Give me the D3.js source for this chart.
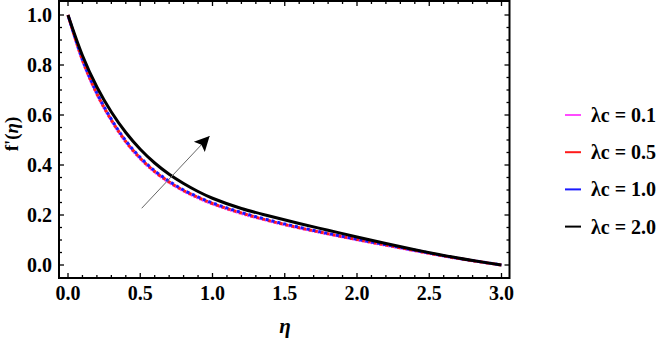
<!DOCTYPE html>
<html>
<head>
<meta charset="utf-8">
<script src="https://cdn.jsdelivr.net/npm/d3@7"></script>
<style>
  body { margin: 0; background: #fff; }
  text { font-family: "Liberation Serif", "Times New Roman", serif; font-weight: bold; }
</style>
</head>
<body>
<svg id="mainsvg" width="669" height="340"></svg>
<script>
// eta grid and f'(eta) curves
var eta = [0.0, 0.1, 0.2, 0.3, 0.4, 0.5, 0.6, 0.7, 0.8, 0.9, 1.0, 1.2, 1.4, 1.6, 1.8, 2.0, 2.2, 2.4, 2.6, 2.8, 3.0];
var fLc01 = [1.000, 0.818, 0.683, 0.578, 0.492, 0.425, 0.372, 0.330, 0.296, 0.268, 0.244, 0.206, 0.175, 0.148, 0.124, 0.101, 0.079, 0.057, 0.036, 0.017, 0.000];
var fLc05 = [1.000, 0.820, 0.685, 0.580, 0.494, 0.427, 0.374, 0.332, 0.298, 0.270, 0.246, 0.208, 0.176, 0.149, 0.125, 0.102, 0.080, 0.058, 0.036, 0.017, 0.000];
var fLc10 = [1.000, 0.822, 0.688, 0.583, 0.497, 0.430, 0.377, 0.335, 0.300, 0.272, 0.248, 0.210, 0.178, 0.151, 0.126, 0.103, 0.081, 0.059, 0.037, 0.018, 0.000];
var fLc20 = [1.000, 0.838, 0.712, 0.612, 0.530, 0.463, 0.408, 0.363, 0.326, 0.294, 0.267, 0.226, 0.195, 0.166, 0.139, 0.112, 0.086, 0.061, 0.038, 0.018, 0.000];

var legendLabels = ["\u03BBc = 0.1", "\u03BBc = 0.5", "\u03BBc = 1.0", "\u03BBc = 2.0"];
var xTicks = [0.0, 0.5, 1.0, 1.5, 2.0, 2.5, 3.0];
var yTicks = [0.0, 0.2, 0.4, 0.6, 0.8, 1.0];

var series = [
  { name: legendLabels[0], values: fLc01, color: "#ff4cff", width: 3, dash: "2,1", offset: 0 },
  { name: legendLabels[1], values: fLc05, color: "#ff1a1a", width: 3, dash: "3,3", offset: 0 },
  { name: legendLabels[2], values: fLc10, color: "#1a1aff", width: 3, dash: "3,3", offset: 3 },
  { name: legendLabels[3], values: fLc20, color: "#000", width: 3, dash: null, offset: 0 }
];

var svg = d3.select("#mainsvg");
var frameL = 59, frameR = 509.5, frameT = 1, frameB = 278;

var x = d3.scaleLinear().domain([0, 3]).range([68, 501.5]);
var y = d3.scaleLinear().domain([0, 1]).range([265, 15]);

// curves
var line = d3.line()
  .x(function (d) { return x(d[0]); })
  .y(function (d) { return y(d[1]); })
  .curve(d3.curveCatmullRom.alpha(0.5));

var plot = svg.append("g").attr("id", "curves");
series.forEach(function (s) {
  plot.append("path")
    .attr("d", line(eta.map(function (e, i) { return [e, s.values[i]]; })))
    .attr("fill", "none")
    .attr("stroke", s.color)
    .attr("stroke-width", s.width)
    .attr("stroke-dasharray", s.dash)
    .attr("stroke-dashoffset", s.offset);
});

// frame with inward ticks on all sides
var frame = svg.append("g");
frame.append("rect")
  .attr("x", frameL).attr("y", frameT)
  .attr("width", frameR - frameL).attr("height", frameB - frameT)
  .attr("fill", "none").attr("stroke", "#000").attr("stroke-width", 2);

var xMinor = d3.range(0, 31).map(function (i) { return i / 10; });
var yMinor = d3.range(0, 21).map(function (i) { return i / 20; });
xMinor.forEach(function (v) {
  var major = Math.abs(v * 2 - Math.round(v * 2)) < 1e-6;
  var len = major ? 5 : 3;
  frame.append("line").attr("x1", x(v)).attr("x2", x(v))
    .attr("y1", frameB).attr("y2", frameB - len).attr("stroke", "#000").attr("stroke-width", 1.3);
  frame.append("line").attr("x1", x(v)).attr("x2", x(v))
    .attr("y1", frameT).attr("y2", frameT + len).attr("stroke", "#000").attr("stroke-width", 1.3);
});
yMinor.forEach(function (v) {
  var major = Math.abs(v * 5 - Math.round(v * 5)) < 1e-6;
  var len = major ? 5 : 3;
  frame.append("line").attr("y1", y(v)).attr("y2", y(v))
    .attr("x1", frameL).attr("x2", frameL + len).attr("stroke", "#000").attr("stroke-width", 1.3);
  frame.append("line").attr("y1", y(v)).attr("y2", y(v))
    .attr("x1", frameR).attr("x2", frameR - len).attr("stroke", "#000").attr("stroke-width", 1.3);
});

// tick labels
svg.append("g").selectAll("text").data(xTicks).enter().append("text")
  .attr("x", function (d) { return x(d); })
  .attr("y", 300)
  .attr("text-anchor", "middle")
  .attr("font-size", 20)
  .text(function (d) { return d3.format(".1f")(d); });

svg.append("g").selectAll("text").data(yTicks).enter().append("text")
  .attr("x", 52)
  .attr("y", function (d) { return y(d); })
  .attr("dy", "0.35em")
  .attr("text-anchor", "end")
  .attr("font-size", 20)
  .text(function (d) { return d3.format(".1f")(d); });

// axis titles
svg.append("text")
  .attr("x", 285).attr("y", 333)
  .attr("text-anchor", "middle")
  .attr("font-size", 21)
  .attr("font-style", "italic")
  .text("\u03B7");

var yl = svg.append("text")
  .attr("transform", "translate(18,134) rotate(-90)")
  .attr("text-anchor", "middle")
  .attr("font-size", 19);
yl.append("tspan").text("f'(");
yl.append("tspan").attr("font-style", "italic").text("\u03B7");
yl.append("tspan").text(")");

// arrow
svg.append("defs").append("marker")
  .attr("id", "head")
  .attr("viewBox", "0 0 10 10")
  .attr("refX", 10).attr("refY", 5)
  .attr("markerWidth", 20).attr("markerHeight", 15)
  .attr("markerUnits", "userSpaceOnUse")
  .attr("orient", "auto")
  .append("path").attr("d", "M0,0 L10,5 L0,10 L2,5 Z").attr("fill", "#000");

svg.append("line")
  .attr("x1", x(0.51)).attr("y1", y(0.227))
  .attr("x2", x(0.98)).attr("y2", y(0.516))
  .attr("stroke", "#666").attr("stroke-width", 1)
  .attr("marker-end", "url(#head)");

// legend
var legend = svg.append("g").selectAll("g").data(series).enter().append("g")
  .attr("transform", function (d, i) { return "translate(565," + (115 + i * 37.2) + ")"; });
legend.append("line")
  .attr("x1", 0).attr("x2", 16)
  .attr("stroke", function (d) { return d.color; })
  .attr("stroke-width", 2);
legend.append("text")
  .attr("x", 26).attr("dy", "0.35em")
  .attr("font-size", 20)
  .text(function (d) { return d.name; });
</script>
</body>
</html>
